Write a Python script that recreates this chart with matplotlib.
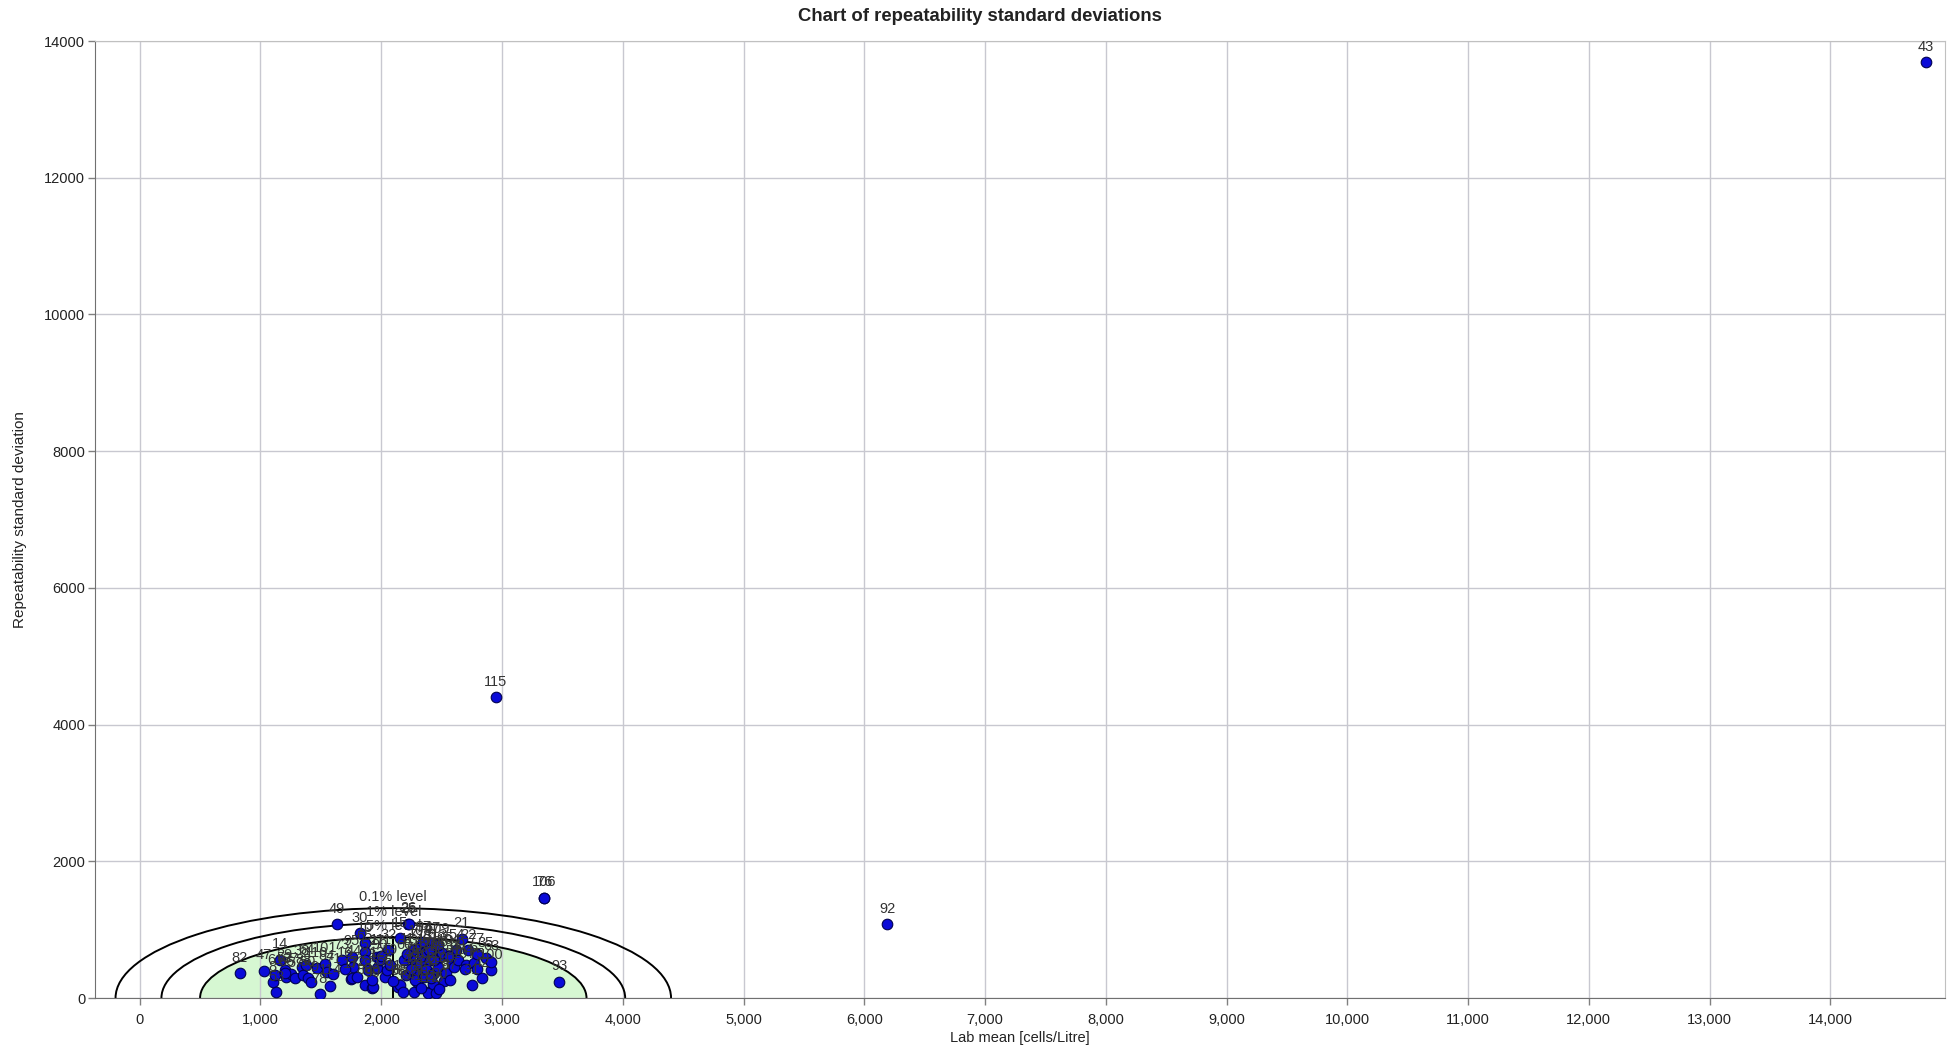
import matplotlib
matplotlib.use("Agg")
import matplotlib.pyplot as plt
from matplotlib.patches import Ellipse
from matplotlib.ticker import FuncFormatter

# Laboratory identifiers, lab means [cells/Litre] and repeatability standard deviations
lab_ids = [
    "82", "47", "8", "53", "14", "61", "29", "66", "37", "57",
    "38", "88", "50", "59", "110", "78", "101", "84", "71", "49",
    "73", "17", "95", "44", "3", "30", "10", "65", "5", "86",
    "23", "99", "40", "27", "12", "90", "56", "2", "32", "19",
    "68", "15", "85", "39", "60", "4", "25", "26", "33", "7",
    "41", "98", "62", "81", "108", "18", "46", "74", "13", "102",
    "55", "112", "36", "67", "1", "89", "45", "113", "96", "28",
    "105", "9", "20", "87", "34", "51", "54", "69", "21", "22",
    "94", "31", "6", "75", "42", "35", "100", "63", "93", "106",
    "76", "115", "92", "43", "11", "48", "79", "58", "97", "70",
    "24", "109", "80", "52", "64", "16", "72", "83", "91", "104",
    "107", "111", "114", "77", "116",
]
lab_mean = [
    830, 1030, 1100, 1130, 1160, 1120, 1200, 1215, 1250, 1290,
    1340, 1355, 1390, 1420, 1465, 1490, 1535, 1548, 1602, 1635,
    1672, 1748, 1755, 1770, 1755, 1823, 1864, 1864, 1865, 1862,
    1892, 1927, 1933, 1961, 1961, 1990, 2030, 2045, 2057, 2071,
    2140, 2154, 2159, 2182, 2192, 2208, 2223, 2228, 2241, 2260,
    2274, 2278, 2290, 2300, 2323, 2323, 2340, 2356, 2361, 2370,
    2388, 2389, 2405, 2421, 2430, 2438, 2454, 2460, 2470, 2490,
    2503, 2520, 2536, 2569, 2590, 2601, 2620, 2634, 2665, 2720,
    2700, 2749, 2765, 2790, 2831, 2864, 2913, 2913, 3476, 3352,
    3352, 2950, 6190, 14790, 2215, 2250, 2280, 2330, 2350, 2395,
    2410, 2470, 2480, 1200, 1380, 1700, 1800, 1920, 2100, 2560,
    2690, 2000, 1580, 2790, 2440,
]
repeat_sd = [
    360, 400, 230, 90, 560, 330, 410, 310, 350, 290,
    460, 335, 300, 230, 435, 55, 505, 385, 345, 1080,
    555, 275, 605, 460, 290, 945, 800, 680, 555, 190,
    410, 140, 165, 605, 435, 556, 312, 410, 702, 480,
    165, 873, 190, 92, 556, 337, 1078, 1090, 605, 700,
    93, 483, 361, 230, 751, 507, 620, 312, 677, 420,
    93, 68, 556, 800, 200, 361, 68, 700, 458, 600,
    653, 250, 361, 263, 520, 458, 700, 556, 870, 700,
    480, 190, 507, 420, 288, 580, 410, 531, 240, 1470,
    1470, 4400, 1080, 13690, 640, 430, 260, 150, 820, 700,
    300, 780, 130, 360, 480, 430, 310, 260, 250, 620,
    420, 620, 180, 640, 560,
]

# Acceptance regions around the grand mean
region_center = 2100
region_labels = ["5% level", "1% level", "0.1% level"]
region_half_width = [1600, 1920, 2300]
region_height = [890, 1095, 1315]

x_ticks = list(range(0, 15000, 1000))
y_ticks = list(range(0, 16000, 2000))

fig = plt.figure(figsize=(19.59, 10.53), dpi=100)
ax = fig.add_axes([0.0485, 0.0522, 0.9444, 0.9088])
ax.set_xlim(-370, 14950)
ax.set_ylim(0, 14000)
ax.set_axisbelow("line")

font = ["Liberation Sans", "DejaVu Sans"]

# Filled inner region, then the three boundary curves
ax.add_patch(Ellipse((region_center, 0), 2 * region_half_width[0], 2 * region_height[0],
                     facecolor="#d6f7d2", edgecolor="none", zorder=1))
for hw, h, lab in zip(region_half_width, region_height, region_labels):
    ax.add_patch(Ellipse((region_center, 0), 2 * hw, 2 * h, fill=False,
                         edgecolor="black", linewidth=1.4, zorder=2))
    ax.annotate(lab, (region_center, h), xytext=(0, 3), textcoords="offset points",
                ha="center", va="bottom", fontsize=10.5, color="#333333",
                family=font, zorder=3)
ax.plot([region_center, region_center], [0, region_height[0]], color="black",
        linewidth=1.4, zorder=2)

ax.scatter(lab_mean, repeat_sd, s=58, c="#0a0ad8", edgecolors="#000050",
           linewidths=0.8, zorder=4)
for lab, x, y in zip(lab_ids, lab_mean, repeat_sd):
    ax.annotate(lab, (x, y), xytext=(0, 6), textcoords="offset points",
                ha="center", va="bottom", fontsize=10.5, color="#333333",
                family=font, zorder=5)

ax.set_xticks(x_ticks)
ax.set_yticks(y_ticks)
ax.xaxis.set_major_formatter(FuncFormatter(lambda v, p: f"{int(v):,}"))
ax.yaxis.set_major_formatter(FuncFormatter(lambda v, p: f"{int(v)}"))
ax.grid(True, color="#c8c8d0", linewidth=1.0)
ax.tick_params(axis="both", colors="#808080", length=5, width=1,
               labelcolor="#222222", labelsize=10.5)
ax.tick_params(axis="x", pad=6)
ax.tick_params(axis="y", pad=2)
for lbl in ax.get_xticklabels() + ax.get_yticklabels():
    lbl.set_family(font)

for side in ("left", "bottom"):
    ax.spines[side].set_color("#707070")
for side in ("top", "right"):
    ax.spines[side].set_color("#c0c0c0")

ax.set_xlabel("Lab mean [cells/Litre]", fontsize=10.5, family=font,
              color="#222222", labelpad=3)
ax.set_ylabel("Repeatability standard deviation", fontsize=11, family=font,
              color="#222222", labelpad=12)
fig.text(0.5, 0.984, "Chart of repeatability standard deviations",
         ha="center", va="center", fontsize=13.3, fontweight="bold",
         family=["Liberation Sans Narrow", "Liberation Sans", "DejaVu Sans"],
         color="#222222", stretch="condensed")

fig.savefig("out.png", dpi=100)
